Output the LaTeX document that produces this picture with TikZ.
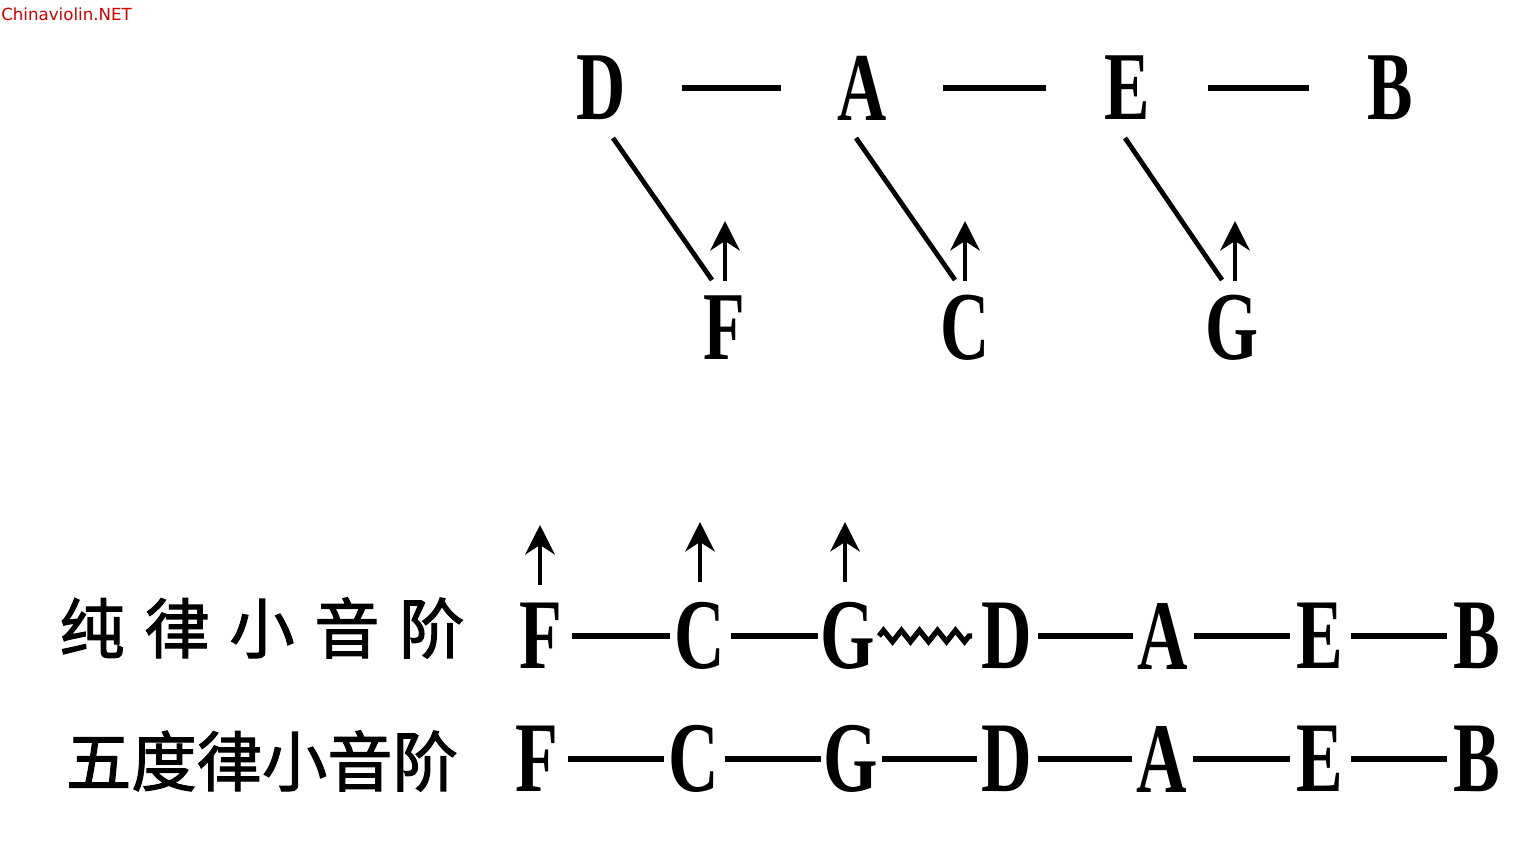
\documentclass[tikz,border=0pt]{standalone}
\usepackage{fontspec}
\usetikzlibrary{arrows.meta,calc,decorations.pathmorphing}
\newfontfamily\notefont{Liberation Serif Bold}[FakeStretch=0.7]
\newfontfamily\cjk{Noto Sans CJK SC}[FakeBold=1.6]
\newfontfamily\wmfont{DejaVu Sans}
\begin{document}
\begin{tikzpicture}[x=0.75pt,y=-0.75pt,
  note/.style={inner sep=0pt,font=\notefont\fontsize{73}{80}\selectfont},
  bnote/.style={inner sep=0pt,font=\notefont\fontsize{75}{80}\selectfont},
  link/.style={line width=3.8pt},
  toplink/.style={link,shorten <=81*0.75pt,shorten >=81*0.75pt},
  blink/.style={link,shorten <=31*0.75pt,shorten >=30*0.75pt},
  diag/.style={line width=3.6pt},
  uparrow/.style={line width=3.6pt,-{Stealth[length=22pt,width=22pt,inset=7pt]}},
  zz/.style={line width=4pt,line join=miter,
    decorate,decoration={zigzag,segment length=13.5pt,amplitude=4.2pt}},
  label/.style={inner sep=0pt,font=\cjk\fontsize{49}{56}\selectfont}]
\useasboundingbox (0,0) rectangle (1534,843);
\fill[white] (0,0) rectangle (1534,843);
\node[anchor=west,inner sep=0pt,text=red!80!black,font=\wmfont\fontsize{12.5}{14}\selectfont] (wm) at (1,14) {Chinaviolin.NET};
% top
\node[note] (D) at (601,88) {D};
\node[note] (A) at (862,88) {A};
\node[note] (E) at (1127,88) {E};
\node[note] (B) at (1390,88) {B};
\node[note] (F) at (724,328) {F};
\node[note] (C) at (965,328) {C};
\node[note] (G) at (1232,328) {G};
\draw[toplink] (D.center) -- (A.center);
\draw[toplink] (A.center) -- (E.center);
\draw[toplink] (E.center) -- (B.center);
\draw[diag] ($(D)+(12,50)$) -- ($(F)+(-12,-48)$);
\draw[diag] ($(A)+(-6,50)$) -- ($(C)+(-10,-48)$);
\draw[diag] ($(E)+(-2,50)$) -- ($(G)+(-10,-48)$);
\draw[uparrow] ($(F)+(1,-47)$) -- ($(F)+(1,-107)$);
\draw[uparrow] ($(C)+(0,-47)$) -- ($(C)+(0,-107)$);
\draw[uparrow] ($(G)+(3,-47)$) -- ($(G)+(3,-107)$);
% row 1
\node[label] (L1) at (262,628) {纯\hspace{0.3em}律\hspace{0.3em}小\hspace{0.3em}音\hspace{0.3em}阶};
\node[bnote] (F1) at (541,636) {F};
\node[bnote] (C1) at (700,636) {C};
\node[bnote] (G1) at (848,636) {G};
\node[bnote] (D1) at (1007,636) {D};
\node[bnote] (A1) at (1163,636) {A};
\node[bnote] (E1) at (1320,636) {E};
\node[bnote] (B1) at (1477,636) {B};
\coordinate (z0) at ($(G1)+(31,0)$);
\coordinate (z1) at ($(D1)+(-35,0)$);
\draw[blink] (F1.center) -- (C1.center);
\draw[blink] (C1.center) -- (G1.center);
\draw[zz] (z0) -- (z1);
\draw[blink] (D1.center) -- (A1.center);
\draw[blink] (A1.center) -- (E1.center);
\draw[blink] (E1.center) -- (B1.center);
\draw[uparrow] ($(F1)+(-1,-51)$) -- ($(F1)+(-1,-111)$);
\draw[uparrow] ($(C1)+(0,-54)$) -- ($(C1)+(0,-114)$);
\draw[uparrow] ($(G1)+(-3,-54)$) -- ($(G1)+(-3,-114)$);
% row 2
\node[label] (L2) at (262,761) {五度律小音阶};
\node[bnote] (F2) at (537,759) {F};
\node[bnote] (C2) at (694,759) {C};
\node[bnote] (G2) at (851,759) {G};
\node[bnote] (D2) at (1007,759) {D};
\node[bnote] (A2) at (1162,759) {A};
\node[bnote] (E2) at (1320,759) {E};
\node[bnote] (B2) at (1477,759) {B};
\draw[blink] (F2.center) -- (C2.center);
\draw[blink] (C2.center) -- (G2.center);
\draw[blink] (G2.center) -- (D2.center);
\draw[blink] (D2.center) -- (A2.center);
\draw[blink] (A2.center) -- (E2.center);
\draw[blink] (E2.center) -- (B2.center);
\end{tikzpicture}
\end{document}
